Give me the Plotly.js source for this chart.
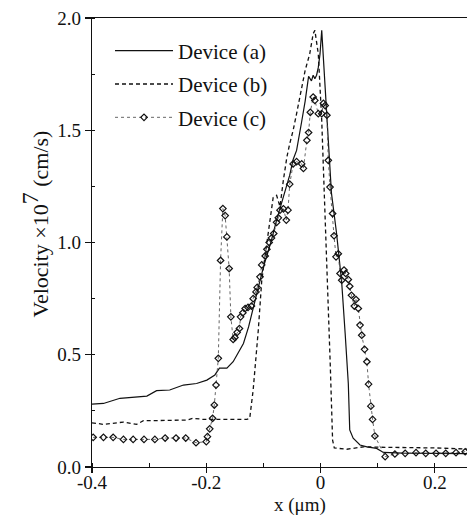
<!DOCTYPE html>
<html>
<head>
<meta charset="utf-8">
<script src="https://cdn.plot.ly/plotly-3.0.1.min.js"></script>
<style>html,body{margin:0;padding:0;background:#fff;}#chart{width:467px;height:516px;}</style>
</head>
<body>
<div id="chart"></div>
<script>
// Device (a) - solid
var aX = [-0.400,-0.380,-0.351,-0.328,-0.304,-0.287,-0.264,-0.240,-0.217,-0.199,-0.185,-0.177,-0.164,-0.153,-0.144,-0.135,-0.126,-0.118,-0.109,-0.100,-0.094,-0.086,-0.077,-0.071,-0.065,-0.060,-0.054,-0.048,-0.042,-0.033,-0.027,-0.021,-0.016,-0.013,-0.010,-0.007,-0.004,-0.001,0.002,0.008,0.0135,0.019,0.028,0.037,0.043,0.0485,0.051,0.057,0.069,0.081,0.098,0.110,0.144,0.203,0.256];
var aY = [0.280,0.283,0.306,0.310,0.316,0.340,0.343,0.365,0.372,0.387,0.410,0.440,0.440,0.469,0.513,0.550,0.624,0.713,0.800,0.890,0.940,1.010,1.100,1.150,1.200,1.240,1.300,1.370,1.410,1.540,1.630,1.740,1.720,1.745,1.730,1.745,1.780,1.840,1.945,1.690,1.470,1.220,1.040,0.820,0.595,0.372,0.165,0.128,0.098,0.090,0.083,0.065,0.062,0.060,0.060];

// Device (b) - dashed
var bX = [-0.400,-0.380,-0.345,-0.322,-0.310,-0.287,-0.258,-0.234,-0.223,-0.205,-0.182,-0.153,-0.129,-0.124,-0.118,-0.109,-0.103,-0.095,-0.086,-0.083,-0.077,-0.071,-0.065,-0.059,-0.054,-0.048,-0.042,-0.033,-0.027,-0.019,-0.013,-0.010,-0.007,-0.004,0.002,0.005,0.008,0.012,0.017,0.021,0.024,0.046,0.075,0.104,0.150,0.200,0.256];
var bY = [0.197,0.190,0.200,0.190,0.206,0.206,0.206,0.209,0.217,0.212,0.212,0.212,0.212,0.217,0.343,0.610,0.830,0.980,1.130,1.200,1.210,1.160,1.280,1.380,1.440,1.500,1.574,1.690,1.767,1.840,1.930,1.945,1.900,1.840,1.544,1.320,1.190,0.850,0.450,0.120,0.085,0.079,0.090,0.088,0.087,0.085,0.080];

// Device (c) - dotted with markers
var cX = [-0.398,-0.380,-0.363,-0.345,-0.328,-0.309,-0.290,-0.272,-0.253,-0.236,-0.218,-0.200,-0.198,-0.194,-0.189,-0.186,-0.183,-0.179,-0.175,-0.171,-0.167,-0.164,-0.160,-0.157,-0.153,-0.150,-0.146,-0.142,-0.140,-0.136,-0.132,-0.127,-0.121,-0.118,-0.113,-0.111,-0.106,-0.103,-0.097,-0.094,-0.090,-0.086,-0.082,-0.077,-0.074,-0.071,-0.065,-0.060,-0.057,-0.054,-0.048,-0.042,-0.033,-0.030,-0.024,-0.021,-0.018,-0.013,-0.010,-0.004,0.002,0.005,0.008,0.011,0.0135,0.0165,0.021,0.0235,0.027,0.031,0.034,0.037,0.041,0.044,0.0485,0.051,0.054,0.059,0.062,0.066,0.069,0.072,0.077,0.081,0.084,0.088,0.091,0.095,0.113,0.130,0.148,0.167,0.184,0.202,0.219,0.237,0.253];
var cY = [0.132,0.132,0.132,0.123,0.123,0.123,0.123,0.129,0.129,0.129,0.108,0.113,0.135,0.170,0.217,0.276,0.365,0.484,0.920,1.151,1.120,1.025,0.884,0.669,0.568,0.577,0.600,0.617,0.669,0.687,0.706,0.711,0.717,0.750,0.780,0.800,0.847,0.900,0.940,0.970,1.000,1.020,1.040,1.090,1.110,1.144,1.150,1.100,1.144,1.260,1.350,1.360,1.350,1.330,1.455,1.490,1.580,1.648,1.633,1.574,1.574,1.620,1.610,1.567,1.366,1.247,1.129,1.030,0.936,0.950,0.862,0.832,0.877,0.862,0.835,0.805,0.765,0.717,0.746,0.706,0.632,0.587,0.524,0.469,0.369,0.271,0.212,0.138,0.046,0.058,0.061,0.064,0.061,0.061,0.061,0.064,0.068];

var seriesNames = ['Device (a)', 'Device (b)', 'Device (c)'];
var xTickVals = [-0.4, -0.2, 0, 0.2];
var xTickText = ['-0.4', '-0.2', '0', '0.2'];
var yTickVals = [0, 0.5, 1.0, 1.5, 2.0];
var yTickText = ['0.0', '0.5', '1.0', '1.5', '2.0'];

var FONT = 'Liberation Serif, Times New Roman, serif';

var traces = [
  {x: aX, y: aY, name: seriesNames[0], type: 'scatter', mode: 'lines',
   line: {color: '#111', width: 1.2}, legendgroup: 'a'},
  {x: bX, y: bY, name: seriesNames[1], type: 'scatter', mode: 'lines',
   line: {color: '#111', width: 1.3, dash: '4px,3px'}, legendgroup: 'b'},
  {x: cX, y: cY, name: seriesNames[2], type: 'scatter', mode: 'lines+markers',
   line: {color: '#555', width: 0.9, dash: 'dot'},
   marker: {symbol: 'diamond-open', size: 5, color: '#111', line: {width: 1.2, color: '#111'}},
   legendgroup: 'c'}
];

var layout = {
  width: 467, height: 516,
  margin: {l: 92, r: 0, t: 18, b: 49},
  paper_bgcolor: '#fff', plot_bgcolor: '#fff',
  font: {family: FONT, size: 19, color: '#111'},
  showlegend: true,
  legend: {x: 0.048, y: 0.972, xanchor: 'left', yanchor: 'top',
           bgcolor: 'rgba(0,0,0,0)', font: {family: FONT, size: 21, color: '#111'},
           traceorder: 'grouped', tracegroupgap: 3, itemwidth: 58},
  xaxis: {range: [-0.4, 0.2562], showgrid: false, zeroline: false,
          showline: true, linecolor: '#111', linewidth: 1.2, mirror: true,
          ticks: 'outside', ticklen: 5, tickwidth: 1.2, tickcolor: '#111',
          ticklabelstandoff: -7,
          tickmode: 'array', tickvals: xTickVals, ticktext: xTickText,
          tickfont: {family: FONT, size: 19, color: '#111'},
          minor: {ticks: 'inside', ticklen: 4, tickwidth: 1, tickcolor: '#111', dtick: 0.1, showgrid: false}},
  yaxis: {range: [0, 2.0], showgrid: false, zeroline: false,
          showline: true, linecolor: '#111', linewidth: 1.2,
          ticks: 'outside', ticklen: 6, tickwidth: 1.2, tickcolor: '#111',
          tickmode: 'array', tickvals: yTickVals, ticktext: yTickText,
          tickfont: {family: FONT, size: 19, color: '#111'},
          minor: {ticks: 'inside', ticklen: 3, tickwidth: 1, tickcolor: '#111', dtick: 0.25, showgrid: false}},
  annotations: [
    {text: 'x (\u03bcm)', xref: 'paper', yref: 'paper', x: 0.555, y: -0.085,
     xanchor: 'center', yanchor: 'middle', showarrow: false,
     font: {family: FONT, size: 19, color: '#111'}},
    {text: 'Velocity \u00d710<sup><span style="font-size:24px">7</span></sup> (cm/s)', xref: 'paper', yref: 'paper', x: -0.152, y: 0.54,
     xanchor: 'center', yanchor: 'middle', textangle: -90, showarrow: false,
     font: {family: FONT, size: 22, color: '#111'}}
  ]
};

Plotly.newPlot('chart', traces, layout, {staticPlot: true, displayModeBar: false});
</script>
</body>
</html>
